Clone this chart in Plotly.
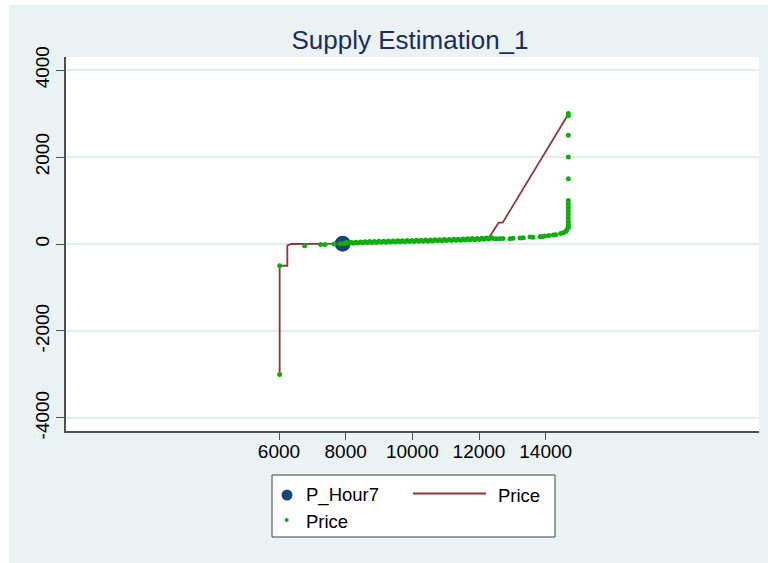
import plotly.graph_objects as go

# ---- data -------------------------------------------------------------
# hour-7 clearing point
hour7_q = [7911]
hour7_p = [8]

# connected supply curve (Price)
line_q = [6020, 6020, 6250, 6250, 6380, 7000, 7900, 8500, 9000, 9500, 10000,
          10500, 11000, 11500, 12000, 12310, 12590, 12710, 14660]
line_p = [-3000, -500, -500, -30, 0, 0, 10, 25, 40, 55, 70,
          80, 90, 105, 125, 160, 490, 490, 2960]

# individual bids (Price)
dot_q = [6020, 6020, 6770, 7250, 7380, 7650, 7830,
         7950, 8020, 8090, 8160, 8230, 8300, 8370, 8440, 8510, 8580,
         8650, 8720, 8790, 8860, 8930, 9000, 9070, 9140, 9210, 9280,
         9350, 9420, 9490, 9560, 9630, 9700, 9770, 9840, 9910, 9980,
         10050, 10120, 10190, 10260, 10330, 10400, 10470, 10540, 10610, 10680,
         10750, 10820, 10890, 10960, 11030, 11100, 11170, 11240, 11310, 11380,
         11450, 11520, 11590, 11660, 11730, 11800, 11870, 11940, 12010, 12080,
         12150, 12220, 12290, 12360,
         12430, 12520, 12630, 12720, 12930, 13020, 13230, 13330, 13530, 13620,
         13830, 13900, 13980, 14100, 14230, 14300, 14450, 14530, 14600, 14630,
         14670, 14680, 14680, 14680, 14680, 14680, 14680, 14680, 14680, 14680,
         14680, 14680, 14680, 14680, 14680]
dot_p = [-3000, -500, -40, -10, -10, 0, 5,
         10, 35, 15, 40, 20, 42, 22, 48, 26, 50,
         30, 55, 33, 58, 36, 62, 40, 64, 42, 68,
         45, 70, 48, 72, 50, 76, 54, 78, 56, 82,
         58, 84, 62, 88, 64, 90, 66, 94, 70, 96,
         72, 100, 76, 102, 78, 106, 82, 110, 85, 112,
         88, 116, 92, 120, 95, 124, 100, 128, 104, 134,
         108, 140, 115, 150,
         125, 120, 122, 128, 122, 130, 138, 142, 160, 158,
         168, 175, 184, 195, 207, 215, 240, 260, 290, 322,
         360, 400, 450, 520, 600, 680, 760, 840, 920, 1000,
         1500, 2000, 2500, 2950, 3000]

x_ticks = [6000, 8000, 10000, 12000, 14000]
x_labels = ["6000", "8000", "10000", "12000", "14000"]
y_ticks = [-4000, -2000, 0, 2000, 4000]
y_labels = ["-4000", "-2000", "0", "2000", "4000"]

# ---- style -------------------------------------------------------------
NAVY = "#1a476f"
MAROON = "#90353b"
GREEN = "#0fae0f"
BG = "#EAF2F3"
FONT = "Liberation Sans, Arial, Helvetica, sans-serif"

W, H = 768, 563
L, R, T, B = 66, 9, 57, 132
PW, PH = W - L - R, H - T - B


def fx(px):
    return (px - L) / PW


def fy(py):
    return (H - B - py) / PH


fig = go.Figure()
fig.add_trace(go.Scatter(x=hour7_q, y=hour7_p, mode="markers", name="P_Hour7",
                         marker=dict(size=16, color=NAVY)))
fig.add_trace(go.Scatter(x=line_q, y=line_p, mode="lines", name="Price",
                         line=dict(color=MAROON, width=1.8)))
fig.add_trace(go.Scatter(x=dot_q, y=dot_p, mode="markers", name="Price",
                         marker=dict(size=5, color=GREEN)))

shapes = [
    # white page edges around the grey-blue frame
    dict(type="rect", xref="paper", yref="paper", x0=fx(0), x1=fx(9), y0=fy(H), y1=fy(0),
         fillcolor="white", line=dict(width=0), layer="above"),
    dict(type="rect", xref="paper", yref="paper", x0=fx(0), x1=fx(W), y0=fy(5), y1=fy(0),
         fillcolor="white", line=dict(width=0), layer="above"),
    # legend box
    dict(type="rect", xref="paper", yref="paper", x0=fx(272), x1=fx(555), y0=fy(537), y1=fy(475),
         fillcolor="white", line=dict(color="#404040", width=1)),
    dict(type="circle", xref="paper", yref="paper", x0=fx(281.5), x1=fx(292.5),
         y0=fy(500.5), y1=fy(489.5), fillcolor=NAVY, line=dict(width=0)),
    dict(type="line", xref="paper", yref="paper", x0=fx(413), x1=fx(486),
         y0=fy(493.5), y1=fy(493.5), line=dict(color=MAROON, width=2)),
    dict(type="circle", xref="paper", yref="paper", x0=fx(284.7), x1=fx(288.7),
         y0=fy(522), y1=fy(518), fillcolor=GREEN, line=dict(width=0)),
]

annotations = [
    dict(text="P_Hour7", x=fx(304), y=fy(495)),
    dict(text="Price", x=fx(496), y=fy(495)),
    dict(text="Price", x=fx(304), y=fy(521)),
]
for a in annotations:
    a.update(xref="paper", yref="paper", xanchor="left", yanchor="middle",
             showarrow=False, font=dict(family=FONT, size=18.5, color="black"))

fig.update_layout(
    width=W, height=H,
    margin=dict(l=L, r=R, t=T, b=B, pad=0),
    paper_bgcolor=BG, plot_bgcolor="white",
    showlegend=False,
    title=dict(text="Supply Estimation_1", xref="container", x=410 / W, xanchor="center",
               yref="container", y=1 - 40 / H, yanchor="middle",
               font=dict(family=FONT, size=26, color="#1c2d5a")),
    shapes=shapes, annotations=annotations,
    font=dict(family=FONT, size=19, color="black"),
)
fig.update_xaxes(range=[-390, 20400], tickvals=x_ticks, ticktext=x_labels,
                 showgrid=False, zeroline=False,
                 showline=True, linecolor="#505050", linewidth=1.5,
                 ticks="outside", ticklen=7, tickwidth=1.2, tickcolor="#505050",
                 ticklabelstandoff=-5, tickfont=dict(size=19))
fig.update_yaxes(range=[-4300, 4300], tickvals=y_ticks, ticktext=y_labels, tickangle=-90,
                 showgrid=True, gridcolor="#E4EDEF", gridwidth=1.5, zeroline=False,
                 showline=True, linecolor="#505050", linewidth=1.5,
                 ticks="outside", ticklen=8, tickwidth=1.2, tickcolor="#505050",
                 tickfont=dict(size=19))

fig.write_html("out.html")
